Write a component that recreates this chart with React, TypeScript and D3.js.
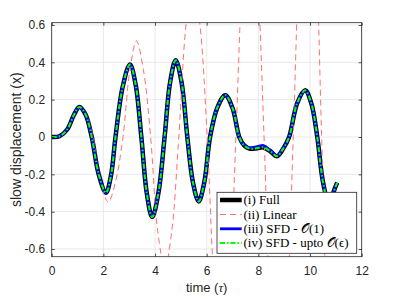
import React, { useEffect, useRef } from 'react'
import * as d3 from 'd3'

const W = 399
const H = 299
const box = { left: 51.7, right: 361.7, top: 22.7, bottom: 256.7 }

// tick values
const xTicks = [0, 2, 4, 6, 8, 10, 12]
const yTicks = [-0.6, -0.4, -0.2, 0, 0.2, 0.4, 0.6]

// time samples (full / SFD curves)
const tFull = [0, 0.3, 0.6, 0.85, 1.07, 1.31, 1.55, 1.82, 2.1, 2.29, 2.47, 2.75, 3.03, 3.25, 3.47, 3.68, 3.89, 4.13, 4.37, 4.58, 4.8, 5.03, 5.25, 5.47, 5.69, 5.91, 6.13, 6.42, 6.72, 7.0, 7.26, 7.45, 7.65, 7.95, 8.2, 8.45, 8.72, 8.95, 9.19, 9.5, 9.81, 10.05, 10.28, 10.5, 10.77, 10.9, 11.05]
// (i) Full
const xFull = [0, 0.004, 0.04, 0.115, 0.161, 0.12, 0, -0.2, -0.298, -0.21, 0, 0.27, 0.388, 0.28, 0, -0.3, -0.429, -0.3, 0, 0.29, 0.411, 0.29, 0, -0.245, -0.345, -0.24, 0, 0.16, 0.224, 0.155, 0, -0.045, -0.062, -0.06, -0.056, -0.075, -0.103, -0.065, 0, 0.18, 0.25, 0.18, 0, -0.24, -0.38, -0.3, -0.245]
// (iii) SFD - O(1)
const xSfd0 = [0, 0.004, 0.04, 0.115, 0.161, 0.12, 0, -0.2, -0.298, -0.21, 0, 0.27, 0.388, 0.28, 0, -0.3, -0.429, -0.3, 0, 0.29, 0.411, 0.29, 0, -0.245, -0.345, -0.24, 0, 0.16, 0.224, 0.155, 0, -0.043, -0.058, -0.052, -0.046, -0.07, -0.1, -0.063, 0, 0.18, 0.25, 0.18, 0, -0.24, -0.38, -0.3, -0.245]
// (iv) SFD - upto O(eps)
const xSfd1 = [0, 0.004, 0.04, 0.115, 0.161, 0.12, 0, -0.2, -0.298, -0.21, 0, 0.27, 0.388, 0.28, 0, -0.3, -0.429, -0.3, 0, 0.29, 0.411, 0.29, 0, -0.245, -0.345, -0.24, 0, 0.16, 0.224, 0.155, 0, -0.045, -0.062, -0.06, -0.056, -0.075, -0.103, -0.065, 0, 0.18, 0.25, 0.18, 0, -0.24, -0.38, -0.3, -0.245]

// (ii) Linear
const tLin = [0, 0.3, 0.6, 0.85, 1.09, 1.33, 1.6, 1.88, 2.19, 2.47, 2.76, 3.02, 3.28, 3.55, 3.83, 4.1, 4.38, 4.65, 4.92, 5.2, 5.47, 5.74, 6.02, 6.3, 6.6, 6.88, 7.13, 7.4, 7.67, 7.95, 8.22, 8.5, 8.8, 9.08, 9.35, 9.63, 9.92, 10.2, 10.45, 10.72, 11.0, 11.05]
const xLin = [0, 0.004, 0.04, 0.115, 0.163, 0.125, 0, -0.23, -0.349, -0.24, 0, 0.35, 0.515, 0.36, 0, -0.5, -0.7, -0.5, 0, 0.6, 0.84, 0.6, 0, -0.8, -1.14, -0.8, 0, 0.9, 1.27, 0.9, 0, -1.06, -1.5, -1.06, 0, 1.1, 1.56, 1.1, 0, -1.2, -1.7, -1.69]

const legendLabels = ['(i) Full', '(ii) Linear', '(iii) SFD - \u{1D4AA}(1)', '(iv) SFD - upto \u{1D4AA}(\u03F5)']

const axisColor = '#262626'
const sansFont = '"Liberation Sans", Arial, Helvetica, sans-serif'
const serifFont = '"Liberation Serif", "DejaVu Serif", serif'

export default function App() {
  const gX = useRef<SVGGElement>(null)
  const gY = useRef<SVGGElement>(null)
  const gTop = useRef<SVGGElement>(null)
  const gRight = useRef<SVGGElement>(null)

  const xScale = d3.scaleLinear().domain([0, 12]).range([box.left, box.right])
  const yScale = d3.scaleLinear().domain([-0.641, 0.612]).range([box.bottom, box.top])

  useEffect(() => {
    const fmt = (d: d3.NumberValue) => String(Math.round(+d * 10) / 10)

    d3.select(gX.current!)
      .call(d3.axisBottom(xScale).tickValues(xTicks).tickSizeInner(-3).tickSizeOuter(0).tickPadding(10).tickFormat(fmt))
    d3.select(gY.current!)
      .call(d3.axisLeft(yScale).tickValues(yTicks).tickSizeInner(-3).tickSizeOuter(0).tickPadding(6.5).tickFormat(fmt))
    d3.select(gTop.current!)
      .call(d3.axisTop(xScale).tickValues(xTicks).tickSizeInner(-3).tickSizeOuter(0).tickFormat(() => ''))
    d3.select(gRight.current!)
      .call(d3.axisRight(yScale).tickValues(yTicks).tickSizeInner(-3).tickSizeOuter(0).tickFormat(() => ''))

    for (const g of [gX, gY, gTop, gRight]) {
      const sel = d3.select(g.current!)
      sel.select('.domain').remove()
      sel.selectAll('line').attr('stroke', axisColor).attr('stroke-width', 0.8)
      sel.selectAll('text')
        .attr('fill', axisColor)
        .style('font-family', sansFont)
        .style('font-size', '12px')
    }
  }, [])

  const line = d3.line<[number, number]>()
    .x(d => xScale(d[0]))
    .y(d => yScale(d[1]))
    .curve(d3.curveCatmullRom.alpha(0.5))

  const fullPts = tFull.map((t, i) => [t, xFull[i]] as [number, number])
  const sfd0Pts = tFull.map((t, i) => [t, xSfd0[i]] as [number, number])
  const sfd1Pts = tFull.map((t, i) => [t, xSfd1[i]] as [number, number])
  const linPts = tLin.map((t, i) => [t, xLin[i]] as [number, number])

  /* legend */
  const lg = { x: 217, y: 192.3, w: 139.7, h: 61 }
  const rowY = [200, 214.5, 228.8, 243]
  const styles = [
    { stroke: '#000', width: 4.5, dash: undefined },
    { stroke: '#ff6f6f', width: 1, dash: '6,4' },
    { stroke: '#0000ff', width: 2.8, dash: undefined },
    { stroke: '#00ff00', width: 2, dash: '5,2,1.5,2' },
  ]

  return (
    <svg width={W} height={H} style={{ position: 'absolute', left: 0, top: 0, background: '#fff' }}>
      <defs>
        <clipPath id="plotClip">
          <rect x={box.left} y={box.top} width={box.right - box.left} height={box.bottom - box.top} />
        </clipPath>
      </defs>

      {/* grid */}
      {xTicks.map(t => (
        <line key={'gx' + t} x1={xScale(t)} x2={xScale(t)} y1={box.top} y2={box.bottom} stroke="#e3e3e3" strokeWidth={0.8} />
      ))}
      {yTicks.map(t => (
        <line key={'gy' + t} x1={box.left} x2={box.right} y1={yScale(t)} y2={yScale(t)} stroke="#e3e3e3" strokeWidth={0.8} />
      ))}

      <g clipPath="url(#plotClip)">
        <path d={line(fullPts) || ''} fill="none" stroke="#000" strokeWidth={4.5} strokeLinejoin="round" />
        <path d={line(linPts) || ''} fill="none" stroke="#ff6f6f" strokeWidth={1} strokeDasharray="6,4" />
        <path d={line(sfd0Pts) || ''} fill="none" stroke="#0000ff" strokeWidth={2.8} strokeLinejoin="round" />
        <path d={line(sfd1Pts) || ''} fill="none" stroke="#00ff00" strokeWidth={2} strokeDasharray="5,2,1.5,2" />
      </g>

      <rect x={box.left} y={box.top} width={box.right - box.left} height={box.bottom - box.top}
        fill="none" stroke={axisColor} strokeWidth={0.8} />

      <g ref={gX} transform={`translate(0,${box.bottom})`} />
      <g ref={gY} transform={`translate(${box.left},0)`} />
      <g ref={gTop} transform={`translate(0,${box.top})`} />
      <g ref={gRight} transform={`translate(${box.right},0)`} />

      <text x={(box.left + box.right) / 2} y={292} textAnchor="middle" fill={axisColor}
        style={{ fontFamily: sansFont, fontSize: 13 }}>
        time (<tspan style={{ fontFamily: serifFont, fontStyle: 'italic' }}>τ</tspan>)
      </text>
      <text transform={`translate(20.5,${(box.top + box.bottom) / 2}) rotate(-90)`} textAnchor="middle" fill={axisColor}
        style={{ fontFamily: sansFont, fontSize: 14 }}>
        slow displacement (x)
      </text>

      {/* legend */}
      <rect x={lg.x} y={lg.y} width={lg.w} height={lg.h} fill="#fff" stroke={axisColor} strokeWidth={0.8} />
      {legendLabels.map((lab, i) => (
        <g key={lab}>
          <line x1={220} x2={241.7} y1={rowY[i]} y2={rowY[i]} stroke={styles[i].stroke}
            strokeWidth={styles[i].width} strokeDasharray={styles[i].dash} />
          <text x={243.5} y={rowY[i] + 4.3} fill="#000" style={{ fontFamily: serifFont, fontSize: 13 }}>{lab}</text>
        </g>
      ))}
    </svg>
  )
}
